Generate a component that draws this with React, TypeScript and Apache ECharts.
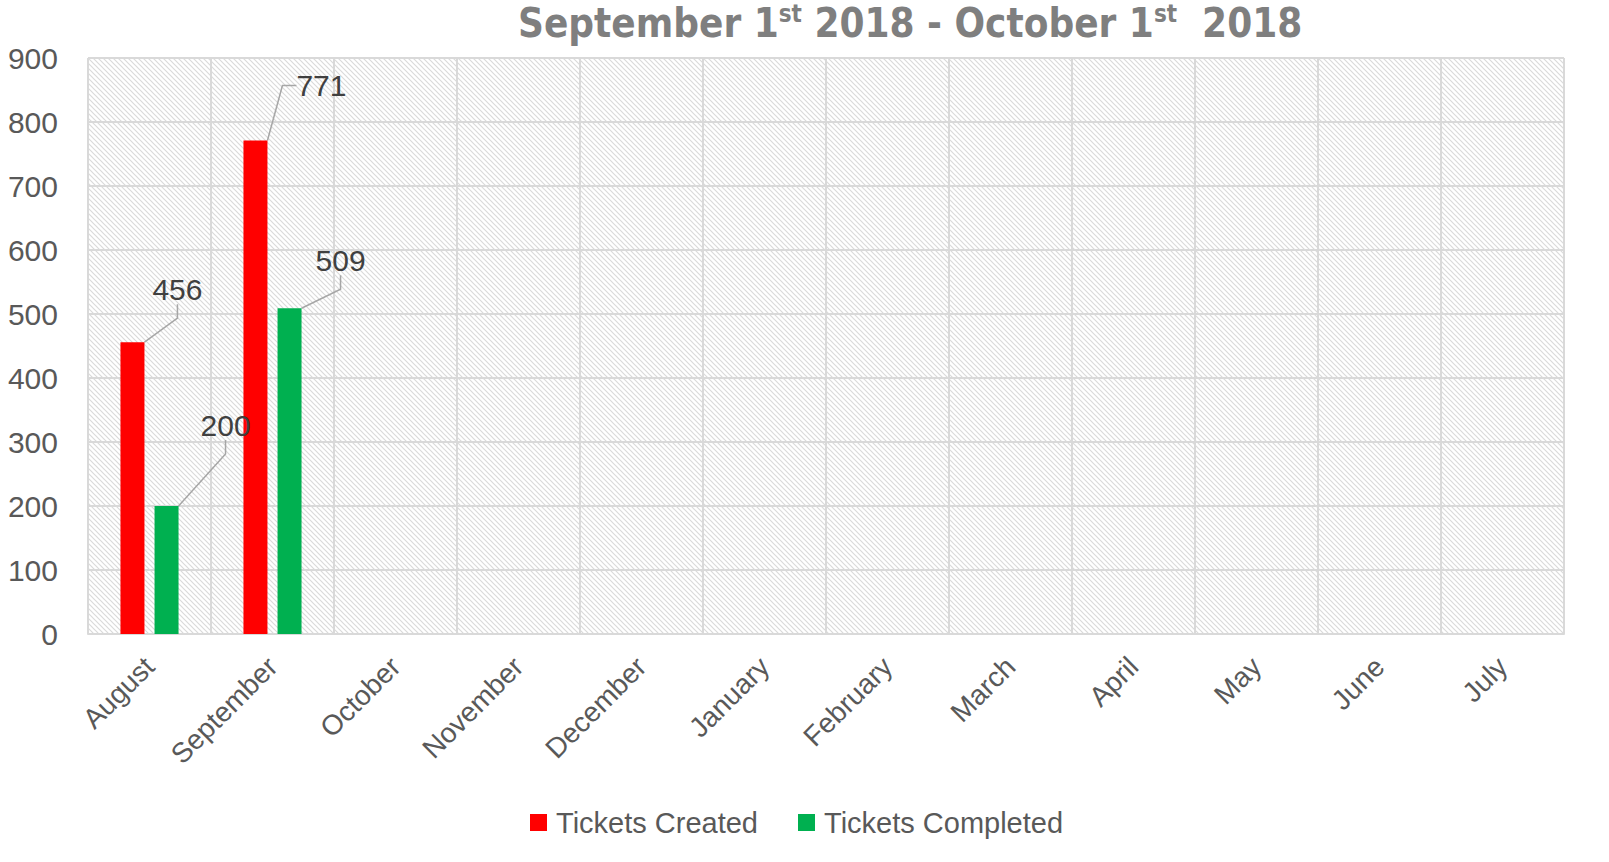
import React, { useEffect, useRef } from "react";
import * as echarts from "echarts";

const categories = ["August", "September", "October", "November", "December", "January", "February", "March", "April", "May", "June", "July"];
const ticketsCreated: (number | null)[] = [456, 771, null, null, null, null, null, null, null, null, null, null];
const ticketsCompleted: (number | null)[] = [200, 509, null, null, null, null, null, null, null, null, null, null];
const seriesNames = ["Tickets Created", "Tickets Completed"];
const yTicks = { min: 0, max: 900, interval: 100 };

function makeHatch(): { url: string; size: number } {
  const size = 5;
  const c = document.createElement("canvas");
  c.width = size;
  c.height = size;
  const ctx = c.getContext("2d")!;
  ctx.fillStyle = "#ffffff";
  ctx.fillRect(0, 0, size, size);
  ctx.strokeStyle = "#dadada";
  ctx.lineWidth = 1.2;
  ctx.beginPath();
  ctx.moveTo(-1, -1);
  ctx.lineTo(size + 1, size + 1);
  ctx.moveTo(-1, size - 1);
  ctx.lineTo(1, size + 1);
  ctx.moveTo(size - 1, -1);
  ctx.lineTo(size + 1, 1);
  ctx.stroke();
  return { url: c.toDataURL(), size };
}

const titleFont = "'DejaVu Sans Condensed', 'Liberation Sans', sans-serif";

export default function App() {
  const ref = useRef<HTMLDivElement>(null);
  useEffect(() => {
    if (!ref.current) return;
    const chart = echarts.init(ref.current, null, { renderer: "svg" });
    const hatch = makeHatch();
    const offsets: Record<string, [number, number]> = {
      "0-0": [45, -33],
      "1-0": [59, -61],
      "0-1": [66, -35],
      "1-1": [51, -28],
    };
    chart.setOption({
      animation: false,
      backgroundColor: "#ffffff",
      title: {
        left: 513,
        top: -3,
        text: "{a|September 1}{s|st}{a| 2018 - October 1}{s|st}{a|  2018}",
        textStyle: {
          rich: {
            a: { fontFamily: titleFont, fontWeight: "bold", fontSize: 40, color: "#7f7f7f" },
            s: { fontFamily: titleFont, fontWeight: "bold", fontSize: 24, color: "#7f7f7f", padding: [0, 0, 18, 0] },
          },
        },
      },
      grid: {
        left: 88,
        right: 45,
        top: 58,
        bottom: 228,
        show: true,
        borderWidth: 0,
        backgroundColor: { image: hatch.url, repeat: "repeat", imageWidth: hatch.size, imageHeight: hatch.size } as any,
      },
      legend: {
        left: 525,
        top: 803,
        itemWidth: 17,
        itemHeight: 17,
        itemGap: 40,
        icon: "rect",
        textStyle: { fontFamily: "Liberation Sans", fontSize: 29, color: "#595959", padding: [0, 0, 0, 4] },
        data: seriesNames,
      },
      xAxis: {
        type: "category",
        data: categories,
        axisLine: { show: true, lineStyle: { color: "#d9d9d9", width: 2 } },
        axisTick: { show: false },
        splitLine: { show: true, interval: 0, lineStyle: { color: "#d9d9d9", width: 2 } },
        axisLabel: {
          interval: 0,
          rotate: 45,
          margin: 28,
          fontFamily: "Liberation Sans",
          fontSize: 28,
          color: "#595959",
        },
      },
      yAxis: {
        type: "value",
        min: yTicks.min,
        max: yTicks.max,
        interval: yTicks.interval,
        axisLine: { show: false },
        axisTick: { show: false },
        splitLine: { show: true, lineStyle: { color: "#d9d9d9", width: 2 } },
        axisLabel: { margin: 30, fontFamily: "Liberation Sans", fontSize: 30, color: "#595959" },
      },
      series: [ticketsCreated, ticketsCompleted].map((d, si) => ({
        name: seriesNames[si],
        type: "bar",
        data: d,
        barWidth: 24,
        barGap: "42%",
        itemStyle: { color: si === 0 ? "#ff0000" : "#00b050" },
        label: {
          show: true,
          position: "top",
          fontFamily: "Liberation Sans",
          fontSize: 30,
          color: "#404040",
          formatter: (p: any) => (p.value == null ? "" : String(p.value)),
        },
        labelLine: { show: true, length2: 14, lineStyle: { color: "#a6a6a6", width: 1.5 } },
        labelLayout: (p: any) => {
          const o = offsets[`${p.seriesIndex}-${p.dataIndex}`];
          return o ? { dx: o[0], dy: o[1] } : {};
        },
      })),
    });
    return () => chart.dispose();
  }, []);
  return <div ref={ref} style={{ position: "fixed", left: 0, top: 0, width: 1609, height: 862 }} />;
}
